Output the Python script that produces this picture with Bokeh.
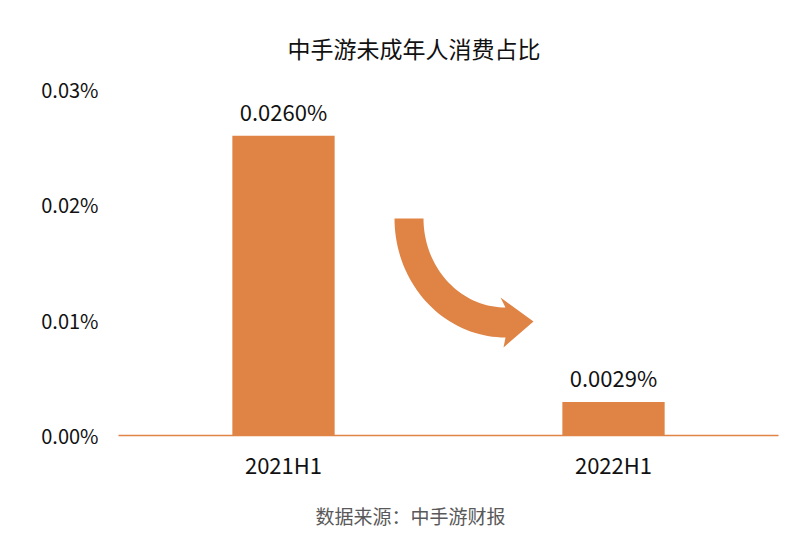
import numpy as np
from bokeh.plotting import figure
from bokeh.models import ColumnDataSource, FactorRange, Range1d, FixedTicker, Title
from bokeh.core.properties import value
from bokeh.embed import file_html
from bokeh.resources import INLINE

categories = ["2021H1", "2022H1"]
shares = [0.0260, 0.0029]          # percent values
share_labels = ["0.0260%", "0.0029%"]
y_ticks = [0.0, 0.01, 0.02, 0.03]
y_tick_labels = ["0.00%", "0.01%", "0.02%", "0.03%"]
title_text = "中手游未成年人消费占比"
source_text = "数据来源：中手游财报"

ORANGE = "#DF8444"
FONT = "Noto Sans CJK SC"

W, H = 784, 546
p = figure(width=W, height=H, output_backend="svg", toolbar_location=None,
           x_range=FactorRange(*categories, range_padding=0),
           y_range=Range1d(0, 0.03),
           min_border_left=118, min_border_right=6,
           min_border_top=89, min_border_bottom=111)
p.outline_line_color = None
p.xgrid.visible = False
p.ygrid.visible = False
p.background_fill_color = "white"
p.border_fill_color = "white"

src = ColumnDataSource(dict(cat=categories, val=shares, lab=share_labels))
p.vbar(x="cat", top="val", width=0.31, bottom=0, source=src,
       fill_color=ORANGE, line_color=None)
p.text(x="cat", y="val", text="lab", source=src, y_offset=-25,
       text_align="center", text_baseline="middle",
       text_font=value(FONT), text_font_size="22px", text_color="#111111")

# y axis
p.yaxis.ticker = FixedTicker(ticks=y_ticks)
p.yaxis.major_label_overrides = {t: l for t, l in zip(y_ticks, y_tick_labels)}
p.yaxis.axis_line_color = None
p.yaxis.major_tick_line_color = None
p.yaxis.minor_tick_line_color = None
p.yaxis.major_tick_in = 0
p.yaxis.major_tick_out = 0
p.yaxis.major_label_standoff = 20
p.yaxis.major_label_text_font = FONT
p.yaxis.major_label_text_font_size = "20px"
p.yaxis.major_label_text_color = "#111111"

# x axis
p.xaxis.axis_line_color = ORANGE
p.xaxis.axis_line_width = 1.5
p.xaxis.major_tick_line_color = None
p.xaxis.minor_tick_line_color = None
p.xaxis.major_tick_in = 0
p.xaxis.major_tick_out = 0
p.xaxis.major_label_standoff = 12
p.xaxis.major_label_text_font = FONT
p.xaxis.major_label_text_font_size = "22px"
p.xaxis.major_label_text_color = "#111111"

# pixel -> data helpers (frame: x 118..778 px for 2 factors, y 435..89 px for 0..0.03)
def dx(px):
    return (px - 118) / 330.0
def dy(py):
    return (435 - py) / 346.0 * 0.03

# curved decorative arrow
cx, cy = 505, 218
t = np.linspace(0, np.pi / 2, 40)
outer_x = cx - 111 * np.cos(t); outer_y = cy + 119 * np.sin(t)
inner_x = cx - 82 * np.cos(t[::-1]); inner_y = cy + 89 * np.sin(t[::-1])
head_x = [503, 533, 500]
head_y = [347, 321, 297]
ax = np.concatenate([outer_x, head_x, inner_x])
ay = np.concatenate([outer_y, head_y, inner_y])
p.patch(x=[dx(v) for v in ax], y=[dy(v) for v in ay], fill_color=ORANGE, line_color=None)

top_title = Title(text=title_text, align="left", offset=169, standoff=50,
                  text_font=FONT, text_font_size="23px", text_font_style="normal",
                  text_color="#111111")
p.add_layout(top_title, "above")
src_title = Title(text=source_text, align="left", offset=197, standoff=35,
                  text_font=FONT, text_font_size="19px", text_font_style="normal",
                  text_color="#595959")
p.add_layout(src_title, "below")

open("out.html", "w").write(file_html(p, INLINE))
